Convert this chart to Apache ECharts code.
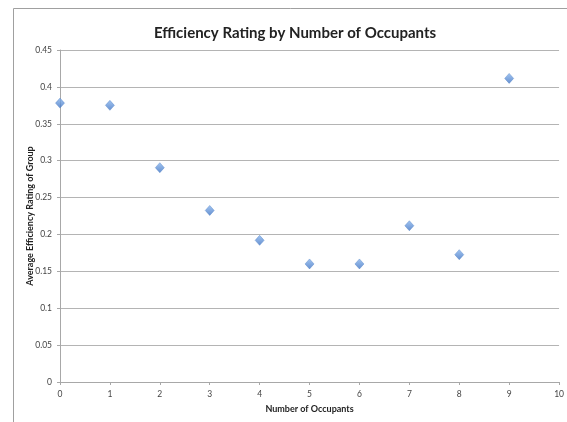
<!DOCTYPE html>
<html><head><meta charset="utf-8">
<script src="https://cdn.jsdelivr.net/npm/echarts@6/dist/echarts.min.js"></script>
<style>html,body{margin:0;padding:0;background:#fff}#c{width:567px;height:422px}</style>
</head><body><div id="c"></div>
<script>
const occupants = [0, 1, 2, 3, 4, 5, 6, 7, 8, 9];
const efficiency = [0.378, 0.375, 0.2905, 0.2325, 0.192, 0.160, 0.160, 0.2118, 0.1726, 0.4115];
const titleText = 'Efficiency Rating by Number of Occupants';
const xTitle = 'Number of Occupants';
const yTitle = 'Average Efficiency Rating of Group';

const chart = echarts.init(document.getElementById('c'));
chart.setOption({
  animation: false,
  backgroundColor: '#fff',
  graphic: [{
    type: 'rect', shape: {x: 13.5, y: 8.5, width: 600, height: 500},
    style: {fill: 'none', stroke: '#a0a0a0', lineWidth: 1}, silent: true, z: -1
  }],
  title: {
    text: titleText, left: 290, top: 21, textAlign: 'center',
    textStyle: {fontFamily: 'Lato', fontWeight: 'bold', fontSize: 15, color: '#222'}
  },
  grid: {left: 60, right: 7, top: 50, bottom: 40},
  xAxis: {
    type: 'value', min: 0, max: 10, interval: 1,
    name: xTitle, nameLocation: 'middle', nameGap: 23,
    nameTextStyle: {fontFamily: 'Lato', fontWeight: 'bold', fontSize: 9, color: '#222'},
    axisLine: {lineStyle: {color: '#a8a8a8'}},
    axisTick: {show: true, length: 3, lineStyle: {color: '#a8a8a8'}},
    axisLabel: {fontFamily: 'Lato', fontSize: 8.5, color: '#444', margin: 8},
    splitLine: {show: false}
  },
  yAxis: {
    type: 'value', min: 0, max: 0.45, interval: 0.05,
    name: yTitle, nameLocation: 'middle', nameGap: 25, nameMoveOverlap: false,
    nameTextStyle: {fontFamily: 'Lato', fontWeight: 'bold', fontSize: 9, color: '#222'},
    axisLine: {show: true, lineStyle: {color: '#a8a8a8'}},
    axisTick: {show: true, length: 3, lineStyle: {color: '#a8a8a8'}},
    axisLabel: {fontFamily: 'Lato', fontSize: 8.5, color: '#444', margin: 8,
      formatter: v => String(Math.round(v * 100) / 100)},
    splitLine: {lineStyle: {color: '#b4b4b4'}}
  },
  series: [{
    type: 'scatter',
    data: occupants.map((x, i) => [x, efficiency[i]]),
    symbol: 'diamond', symbolSize: [9, 10],
    itemStyle: {
      color: new echarts.graphic.LinearGradient(0, 0, 0, 1, [
        {offset: 0, color: '#8ab6ee'}, {offset: 1, color: '#3f74c4'}
      ]),
      borderColor: '#4a7cc4', borderWidth: 0.5
    }
  }]
});
</script></body></html>
